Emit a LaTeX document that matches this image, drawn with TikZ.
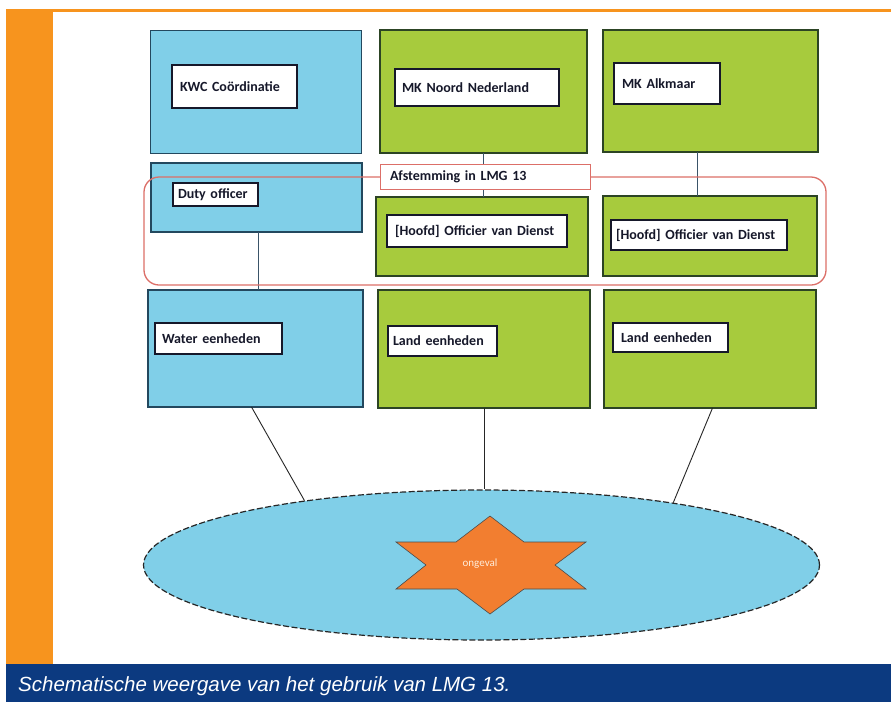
\documentclass[tikz,border=0pt]{standalone}
\usepackage{fontspec}
\setmainfont{Carlito}
\newfontfamily\capfont{Liberation Sans}
\usetikzlibrary{shapes.geometric}

\definecolor{skyfill}{HTML}{80CFE8}
\definecolor{skyedge}{HTML}{23485E}
\definecolor{leaf}{HTML}{A7CB3D}
\definecolor{leafedge}{HTML}{2C4424}
\definecolor{orangebar}{HTML}{F7941E}
\definecolor{band}{HTML}{0C3A80}
\definecolor{rosy}{HTML}{DC6F68}
\definecolor{starfill}{HTML}{F27E30}
\definecolor{inktext}{HTML}{16182A}
\definecolor{wirecol}{HTML}{3A5468}

\tikzset{
  panel/.style={rectangle, inner sep=0pt, outer sep=0pt},
  skypanel/.style={panel, fill=skyfill, draw=skyedge},
  leafpanel/.style={panel, fill=leaf, draw=leafedge},
  tag/.style={rectangle, fill=white, draw=inktext, line width=1.2pt,
    inner ysep=0pt, outer sep=0pt, align=left, text=inktext,
    font=\fontsize{14}{16}\selectfont\bfseries},
  wire/.style={draw=wirecol, line width=0.9pt},
  spoke/.style={draw=black!85, line width=0.9pt},
}

% label: name, centre, width, height, left padding, text
\newcommand{\tagbox}[6]{%
  \pgfmathsetlengthmacro{\tagtw}{#3-2*#5}%
  \node[tag, minimum width=#3pt, minimum height=#4pt, inner xsep=#5pt,
        text width=\tagtw] (#1) at #2 {#6};}

\begin{document}
\begin{tikzpicture}[x=1pt,y=-1pt]
  \useasboundingbox (0,0) rectangle (891,702);
  \fill[white] (0,0) rectangle (891,702);

  % page frame: orange rule, orange side bar, caption band
  \fill[orangebar] (6,9) rectangle (891,12);
  \fill[orangebar] (6,9) rectangle (53,664);
  \fill[band] (6,664) rectangle (891,702);
  \node[anchor=base west, inner sep=0pt, text=white,
        font=\capfont\itshape\fontsize{20.5}{24}\selectfont] (caption)
        at (18,691.5) {Schematische weergave van het gebruik van LMG 13.};

  % top row
  \node[skypanel, line width=1pt, minimum width=211pt, minimum height=123pt] (kwc) at (255.5,91.5) {};
  \node[leafpanel, line width=1.2pt, minimum width=207pt, minimum height=123pt] (mkn) at (483.5,91.5) {};
  \node[leafpanel, line width=1.2pt, minimum width=215pt, minimum height=122pt] (mka) at (710.5,91) {};

  % middle row
  \node[skypanel, line width=2pt, minimum width=211pt, minimum height=69pt] (duty) at (256.5,197.5) {};
  \node[leafpanel, line width=2pt, minimum width=212pt, minimum height=79pt] (hoofdc) at (482,236.5) {};
  \node[leafpanel, line width=1.3pt, minimum width=214pt, minimum height=80pt] (hoofdr) at (710,236) {};

  % bottom row
  \node[skypanel, line width=1.2pt, minimum width=215pt, minimum height=117pt] (water) at (255.5,348.5) {};
  \node[leafpanel, line width=1.5pt, minimum width=212pt, minimum height=118pt] (landc) at (484,349) {};
  \node[leafpanel, line width=1.5pt, minimum width=212pt, minimum height=118pt] (landr) at (710,349) {};

  % vertical links between the rows
  \draw[wire] (mkn.south) -- (mkn.south |- hoofdc.north);
  \draw[wire] ([xshift=-13pt]mka.south) -- ([xshift=-13pt]mka.south |- hoofdr.north);
  \draw[wire] ([xshift=1.5pt]duty.south) -- ([xshift=1.5pt]duty.south |- water.north);

  % coordination zone
  \node[panel, draw=rosy, line width=1.3pt, rounded corners=15pt,
        minimum width=682pt, minimum height=108pt] (zone) at (485,231) {};

  % labels
  \tagbox{tkwc}{(234.5,86.5)}{125}{43}{8}{KWC Coördinatie}
  \tagbox{tmkn}{(477,87.5)}{164}{37}{7}{MK Noord Nederland}
  \tagbox{tmka}{(667,83.5)}{106}{41}{8}{MK Alkmaar}
  \tagbox{tduty}{(215.5,194.5)}{85}{23}{5}{Duty officer}
  \node[tag, draw=rosy, line width=1pt, minimum width=210pt, minimum height=25pt,
        inner xsep=10pt, text width=190pt] (afst) at (485,176.5) {Afstemming in LMG 13};
  \tagbox{thc}{(477,231)}{180}{32}{8}{[Hoofd] Officier van Dienst}
  \tagbox{thr}{(699,235)}{176}{30}{5}{[Hoofd] Officier van Dienst}
  \tagbox{twater}{(218.5,338.5)}{127}{31}{7}{Water eenheden}
  \tagbox{tlandc}{(442.5,341)}{109}{30}{5}{Land eenheden}
  \tagbox{tlandr}{(670.5,337.5)}{115}{29}{8}{Land eenheden}

  % incident area
  \node[ellipse, fill=skyfill, draw=black!85, line width=1.2pt,
        dash pattern=on 6pt off 2.5pt, inner sep=0pt,
        minimum width=676pt, minimum height=150pt] (area) at (481.5,565) {};
  \draw[spoke] ([xshift=-4pt]water.south) -- (area.160);
  \draw[spoke] (landc.south) -- (landc.south |- area.north);
  \draw[spoke] ([xshift=2.5pt]landr.south) -- (area.18);

  % six-pointed star
  \fill[starfill, draw=black!70, line width=0.6pt]
    (490,516) -- (524,542) -- (586,542) -- (555,565) -- (586,589) -- (524,589)
    -- (490,614) -- (457,589) -- (396,589) -- (426,565) -- (396,542) -- (456,542) -- cycle;
  \node[text=white!85!orange, font=\fontsize{11}{13}\selectfont] (spot) at (480,564) {ongeval};
\end{tikzpicture}
\end{document}
